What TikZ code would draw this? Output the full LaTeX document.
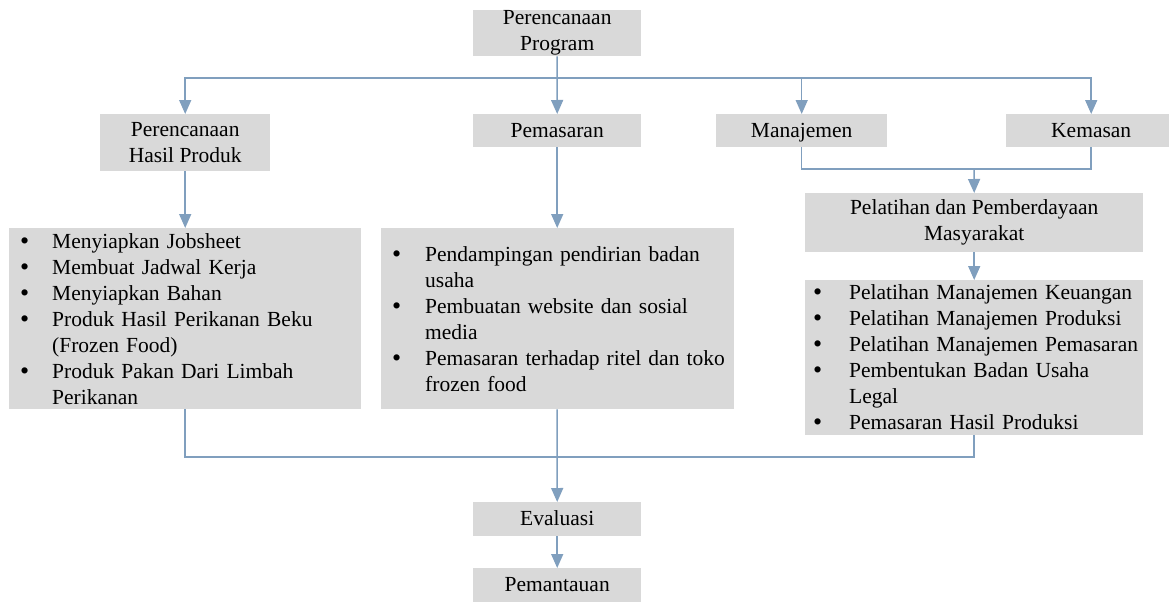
\documentclass[tikz,border=0pt]{standalone}
\usepackage{fontspec}
\setmainfont{Liberation Serif}
\usetikzlibrary{arrows.meta}
\definecolor{linec}{RGB}{128,159,190}
\definecolor{boxc}{RGB}{217,217,217}
\newcommand{\bul}[1]{\makebox[#1][l]{\raisebox{-1pt}{\fontsize{26}{26}\selectfont\textbullet}}}
\newcommand{\cont}[1]{\hspace*{#1}}
\begin{document}
\begin{tikzpicture}[x=1pt,y=-1pt,
  box/.style={fill=boxc, inner sep=0pt, anchor=north west, align=center,
    font=\fontsize{21.5}{26}\selectfont},
  single/.style={box, text height=17pt, text depth=4pt},
  listbox/.style={box, align=left, inner xsep=11pt, inner ysep=0pt},
  conn/.style={draw=linec, line width=1.5pt},
  arr/.style={conn, -{Triangle[length=14pt,width=12pt]}}]
\clip (0,0) rectangle (1169,602);
\fill[white] (0,0) rectangle (1169,602);
% nodes
\node[box, minimum width=168pt, minimum height=46pt] (top) at (473,10) {Perencanaan\\Program};
\node[box, minimum width=170pt, minimum height=57pt] (hp) at (100,114) {Perencanaan\\Hasil Produk};
\node[single, minimum width=168pt, minimum height=33pt] (pem) at (473,114) {Pemasaran};
\node[single, minimum width=171pt, minimum height=33pt] (man) at (716,114) {Manajemen};
\node[single, minimum width=170pt, minimum height=33pt] (kem) at (1006,114) {Kemasan};
\node[box, minimum width=338pt, minimum height=59pt] (pel) at (805,193) {Pelatihan dan Pemberdayaan\\Masyarakat};
\node[listbox, text width=330pt, minimum height=181pt] (L) at (9,228)
  {\mbox{\bul{32pt}Menyiapkan Jobsheet}\\
   \mbox{\bul{32pt}Membuat Jadwal Kerja}\\
   \mbox{\bul{32pt}Menyiapkan Bahan}\\
   \mbox{\bul{32pt}Produk Hasil Perikanan Beku}\\
   \mbox{\cont{32pt}(Frozen Food)}\\
   \mbox{\bul{32pt}Produk Pakan Dari Limbah}\\
   \mbox{\cont{32pt}Perikanan}};
\node[listbox, text width=331pt, minimum height=181pt] (M) at (381,228)
  {\mbox{\bul{33pt}Pendampingan pendirian badan}\\
   \mbox{\cont{33pt}usaha}\\
   \mbox{\bul{33pt}Pembuatan website dan sosial}\\
   \mbox{\cont{33pt}media}\\
   \mbox{\bul{33pt}Pemasaran terhadap ritel dan toko}\\
   \mbox{\cont{33pt}frozen food}};
\node[listbox, inner xsep=8pt, text width=322pt, minimum height=155pt] (R) at (805,280)
  {\mbox{\bul{36pt}Pelatihan Manajemen Keuangan}\\
   \mbox{\bul{36pt}Pelatihan Manajemen Produksi}\\
   \mbox{\bul{36pt}Pelatihan Manajemen Pemasaran}\\
   \mbox{\bul{36pt}Pembentukan Badan Usaha}\\
   \mbox{\cont{36pt}Legal}\\
   \mbox{\bul{36pt}Pemasaran Hasil Produksi}};
\node[single, minimum width=168pt, minimum height=34pt] (ev) at (473,502) {Evaluasi};
\node[single, minimum width=168pt, minimum height=34pt] (pm) at (473,568) {Pemantauan};
% junctions
\coordinate (j1) at (557,78);
\coordinate (j2) at (974,169);
\coordinate (j3) at (557,457);
% connectors
\draw[conn] (top.south) -- (j1);
\draw[arr] (j1) -| (hp.north);
\draw[arr] (j1) -- (pem.north);
\draw[arr] (j1) -| (man.north);
\draw[arr] (j1) -| (kem.north);
\draw[arr] (hp.south) -- (L.north);
\draw[arr] (pem.south) -- (pem.south |- M.north);
\draw[conn] (man.south) |- (j2);
\draw[conn] (kem.south) |- (j2);
\draw[arr] (j2) -- (pel.north);
\draw[arr] (pel.south) -- (R.north);
\draw[conn] (L.south) |- (j3);
\draw[conn] (R.south) |- (j3);
\draw[arr] (M.south -| j3) -- (ev.north);
\draw[arr] (ev.south) -- (pm.north);
\end{tikzpicture}
\end{document}
